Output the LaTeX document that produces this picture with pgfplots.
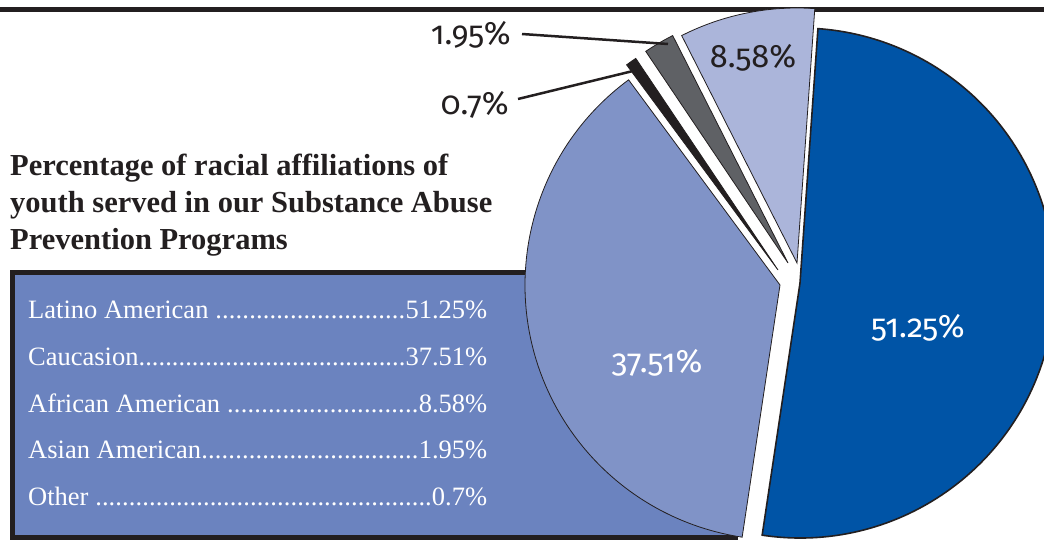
\documentclass[border=0pt]{standalone}
\usepackage{pgfplots}
\pgfplotsset{compat=1.18}
\usepackage{pgfplotstable}
\usepackage{fontspec}
\setmainfont{Liberation Serif}
\newfontfamily\labelfont{Fira Sans}[Numbers=OldStyle]

\definecolor{latino}{RGB}{0,84,166}
\definecolor{cauc}{RGB}{128,147,199}
\definecolor{afam}{RGB}{171,181,218}
\definecolor{asian}{RGB}{95,97,101}
\definecolor{other}{RGB}{35,31,32}
\definecolor{boxblue}{RGB}{107,131,191}
\definecolor{ink}{RGB}{35,31,32}

% slices in counter-clockwise order, starting at 86 degrees
% cx, cy = apex of each (exploded) slice
\pgfplotstableread{
value cx  cy  color  lw
8.58  797 276 afam   0.8
1.95  788 276 asian  0.8
0.70  778 269 other  0.8
37.51 780 254 cauc   0.8
51.25 800 256 latino 1.6
}\slices

\newcommand\legrow[2]{\makebox[459pt]{#1\xleaders\hbox{.}\hfill#2}}

\begin{document}
\begin{tikzpicture}
\begin{axis}[
    name=ax,
    x=1pt, y=1pt,
    xmin=0, xmax=1044, ymin=0, ymax=539,
    hide axis,
    clip=true,
]
% top rule and legend box
\draw[ink, line width=5pt] (axis cs:0,529.5) -- (axis cs:1044,529.5);
\filldraw[fill=boxblue, draw=ink, line width=5pt] (axis cs:12,2) rectangle (axis cs:735,266.5);

% title
\begin{scope}[every node/.style={anchor=base west, inner sep=0pt, text=ink,
    font=\fontsize{30.5}{37}\selectfont\bfseries}]
\node at (axis cs:10,363) {Percentage of racial affiliations of};
\node at (axis cs:10,326) {youth served in our Substance Abuse};
\node at (axis cs:10,289) {Prevention Programs};
\end{scope}

% legend rows
\begin{scope}[every node/.style={anchor=base west, inner sep=0pt, text=white,
    font=\fontsize{26.5}{30}\selectfont}]
\node at (axis cs:28,221) {\legrow{Latino American\ }{51.25\%}};
\node at (axis cs:28,174) {\legrow{Caucasion}{37.51\%}};
\node at (axis cs:28,127) {\legrow{African American\ }{8.58\%}};
\node at (axis cs:28,81)  {\legrow{Asian American}{1.95\%}};
\node at (axis cs:28,34)  {\legrow{Other\ }{0.7\%}};
\end{scope}

% pie slices from the table
\pgfplotsextra{
  \pgfplotstablegetrowsof{\slices}
  \pgfmathtruncatemacro\lastrow{\pgfplotsretval-1}
  \gdef\angstart{86}
  \foreach \i in {0,...,\lastrow}{
    \pgfplotstablegetelem{\i}{value}\of\slices \let\val\pgfplotsretval
    \pgfplotstablegetelem{\i}{cx}\of\slices \let\cx\pgfplotsretval
    \pgfplotstablegetelem{\i}{cy}\of\slices \let\cy\pgfplotsretval
    \pgfplotstablegetelem{\i}{color}\of\slices \let\col\pgfplotsretval
    \pgfplotstablegetelem{\i}{lw}\of\slices \let\lw\pgfplotsretval
    \pgfmathsetmacro\angend{\angstart+3.6*\val}
    \filldraw[fill=\col, draw=ink, line width=\lw pt, line join=miter]
      (axis cs:\cx,\cy) -- ++(\angstart:255pt)
      arc[start angle=\angstart, end angle=\angend, radius=255pt] -- cycle;
    \xdef\angstart{\angend}
  }
}

% slice labels
\begin{scope}[every node/.style={inner sep=0pt, font=\labelfont\fontsize{32.5}{38}\selectfont}]
\node[text=ink]   at (axis cs:753,481) {8.58\%};
\node[text=white] at (axis cs:918,211) {51.25\%};
\node[text=white] at (axis cs:657,176) {37.51\%};
\node[text=ink, anchor=east] at (axis cs:511,504) {1.95\%};
\node[text=ink, anchor=east] at (axis cs:509,434) {0.7\%};
\end{scope}
\draw[ink, line width=2.5pt] (axis cs:522,505) -- (axis cs:668,495);
\draw[ink, line width=2.5pt] (axis cs:518,440) -- (axis cs:633,468);
\end{axis}
\pgfresetboundingbox
\useasboundingbox (ax.south west) rectangle (ax.north east);
\end{tikzpicture}
\end{document}
